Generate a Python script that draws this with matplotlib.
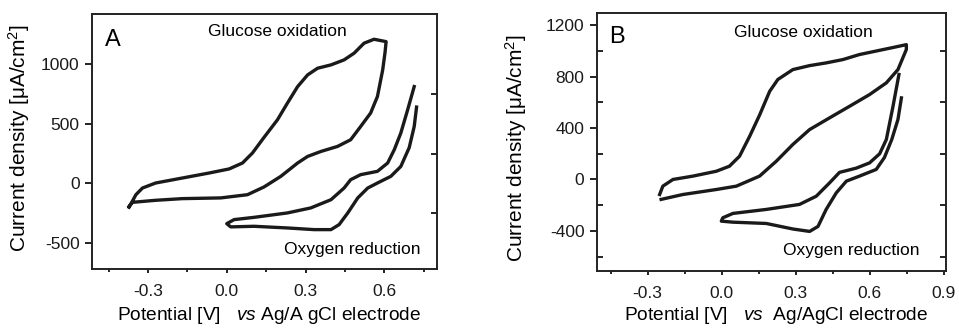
import matplotlib
matplotlib.use('Agg')
import matplotlib.pyplot as plt
from matplotlib.ticker import FixedLocator

plt.rcParams['font.family'] = ['Liberation Sans', 'DejaVu Sans']
plt.rcParams['mathtext.fontset'] = 'custom'
plt.rcParams['mathtext.rm'] = 'Liberation Sans'
plt.rcParams['mathtext.it'] = 'Liberation Sans:italic'
plt.rcParams['axes.unicode_minus'] = False

# Panel A - glucose oxidation loop (potential V, current density uA/cm2)
a_glu_x = [-0.372, -0.346, -0.321, -0.271, -0.169, -0.067, 0.009, 0.060, 0.098, 0.140,
           0.193, 0.231, 0.270, 0.308, 0.346, 0.397, 0.447, 0.485, 0.523, 0.561,
           0.607, 0.603, 0.594, 0.574, 0.548, 0.510, 0.472, 0.422, 0.359, 0.308,
           0.270, 0.206, 0.142, 0.079, -0.023, -0.169, -0.271, -0.359, -0.372]
a_glu_y = [-200, -95, -39, 3, 45, 87, 121, 171, 255, 380,
           533, 673, 812, 910, 966, 994, 1036, 1092, 1176, 1209,
           1189, 1100, 952, 729, 590, 477, 366, 310, 268, 226,
           171, 59, -30, -95, -122, -128, -142, -159, -193]

# Panel A - oxygen reduction loop
a_oxy_x = [0.714, 0.689, 0.663, 0.638, 0.613, 0.574, 0.510, 0.472, 0.447, 0.397,
           0.320, 0.231, 0.104, 0.028, 0.000, 0.015, 0.104, 0.231, 0.333, 0.397,
           0.428, 0.461, 0.499, 0.537, 0.574, 0.625, 0.663, 0.695, 0.714, 0.723]
a_oxy_y = [812, 617, 422, 282, 171, 101, 73, 31, -39, -137,
           -206, -248, -285, -304, -338, -365, -360, -374, -388, -388,
           -346, -248, -122, -39, 3, 59, 142, 300, 477, 640]

# Panel B - glucose oxidation loop
b_glu_x = [-0.251, -0.238, -0.197, -0.116, -0.021, 0.032, 0.073, 0.114, 0.154, 0.195,
           0.228, 0.289, 0.357, 0.424, 0.492, 0.559, 0.641, 0.708, 0.749, 0.749,
           0.715, 0.668, 0.600, 0.519, 0.438, 0.357, 0.289, 0.222, 0.154, 0.060,
           -0.021, -0.157, -0.245]
b_glu_y = [-117, -52, 0, 26, 64, 103, 181, 336, 500, 685,
           777, 854, 885, 906, 932, 971, 1004, 1031, 1048, 1010,
           854, 751, 660, 569, 479, 388, 272, 142, 26, -52,
           -78, -117, -155]

# Panel B - oxygen reduction loop
b_oxy_x = [0.719, 0.695, 0.668, 0.641, 0.600, 0.546, 0.478, 0.438, 0.384, 0.316,
           0.181, 0.046, 0.005, -0.001, 0.046, 0.181, 0.289, 0.357, 0.391, 0.424,
           0.465, 0.506, 0.559, 0.627, 0.660, 0.690, 0.715, 0.729]
b_oxy_y = [816, 569, 311, 200, 129, 88, 55, -26, -130, -194,
           -233, -264, -298, -324, -332, -342, -385, -404, -365, -233,
           -104, -13, 26, 78, 170, 311, 466, 634]

a_xticks = [-0.3, 0.0, 0.3, 0.6]
a_yticks = [-500, 0, 500, 1000]
b_xticks = [-0.3, 0.0, 0.3, 0.6, 0.9]
b_yticks = [-400, 0, 400, 800, 1200]

fig = plt.figure(figsize=(9.59, 3.28), dpi=100)
axA = fig.add_axes([0.096, 0.180, 0.360, 0.777])
axB = fig.add_axes([0.6225, 0.174, 0.364, 0.786])

lc = '#1a1a1a'
for ax in (axA, axB):
    for s in ax.spines.values():
        s.set_linewidth(1.4)
        s.set_color('#222222')
    ax.tick_params(axis='both', which='major', labelsize=12.5, width=1.4, color='#222222',
                   labelcolor='#1a1a1a')
    ax.tick_params(axis='y', which='major', direction='out', length=5, pad=4)
    ax.tick_params(axis='x', which='major', direction='out', length=3, pad=8)
    ax.tick_params(axis='x', which='minor', direction='out', length=2, width=1.2)
    ax.tick_params(axis='y', which='minor', direction='in', length=4, width=1.2,
                   left=False, right=True)

# Panel A
axA.plot(a_glu_x, a_glu_y, color=lc, lw=2.4, solid_joinstyle='round')
axA.plot(a_oxy_x, a_oxy_y, color=lc, lw=2.4, solid_joinstyle='round')
axA.set_xlim(-0.513, 0.802)
axA.set_ylim(-718, 1420)
axA.set_xticks(a_xticks)
axA.set_xticklabels(['-0.3', '0.0', '0.3', '0.6'])
axA.set_yticks(a_yticks)
axA.xaxis.set_minor_locator(FixedLocator([-0.45, -0.15, 0.15, 0.45, 0.75]))
axA.yaxis.set_minor_locator(FixedLocator([-250, 250, 750]))
axA.text(0.061, 0.90, 'A', transform=axA.transAxes, fontsize=17, ha='center', va='center')
axA.text(0.536, 0.933, 'Glucose oxidation', transform=axA.transAxes, fontsize=12.5,
         ha='center', va='center')
axA.text(0.754, 0.075, 'Oxygen reduction', transform=axA.transAxes, fontsize=12.5,
         ha='center', va='center')
axA.set_xlabel('Potential [V]   $\\mathit{vs}$ Ag/A gCl electrode', fontsize=13.8)
axA.set_ylabel('Current density [\u03bcA/cm$^2$]', fontsize=15)
axA.xaxis.set_label_coords(0.513, -0.142)
axA.yaxis.set_label_coords(-0.175, 0.514)

# Panel B
axB.plot(b_glu_x, b_glu_y, color=lc, lw=2.4, solid_joinstyle='round')
axB.plot(b_oxy_x, b_oxy_y, color=lc, lw=2.4, solid_joinstyle='round')
axB.set_xlim(-0.505, 0.91)
axB.set_ylim(-711, 1293)
axB.set_xticks(b_xticks)
axB.set_xticklabels(['-0.3', '0.0', '0.3', '0.6', '0.9'])
axB.set_yticks(b_yticks)
axB.set_yticklabels(['-400', '0', '400', '800', '1200'])
axB.xaxis.set_minor_locator(FixedLocator([-0.45, -0.15, 0.15, 0.45, 0.75]))
axB.yaxis.set_minor_locator(FixedLocator([-600, -200, 200, 600, 1000]))
axB.tick_params(axis='y', which='minor', left=True)
axB.text(0.057, 0.907, 'B', transform=axB.transAxes, fontsize=17, ha='center', va='center')
axB.text(0.59, 0.926, 'Glucose oxidation', transform=axB.transAxes, fontsize=12.5,
         ha='center', va='center')
axB.text(0.728, 0.081, 'Oxygen reduction', transform=axB.transAxes, fontsize=12.5,
         ha='center', va='center')
axB.set_xlabel('Potential [V]   $\\mathit{vs}$  Ag/AgCl electrode', fontsize=13.8)
axB.set_ylabel('Current density [\u03bcA/cm$^2$]', fontsize=15)
axB.xaxis.set_label_coords(0.513, -0.132)
axB.yaxis.set_label_coords(-0.195, 0.477)

fig.savefig('out.png', dpi=100)
